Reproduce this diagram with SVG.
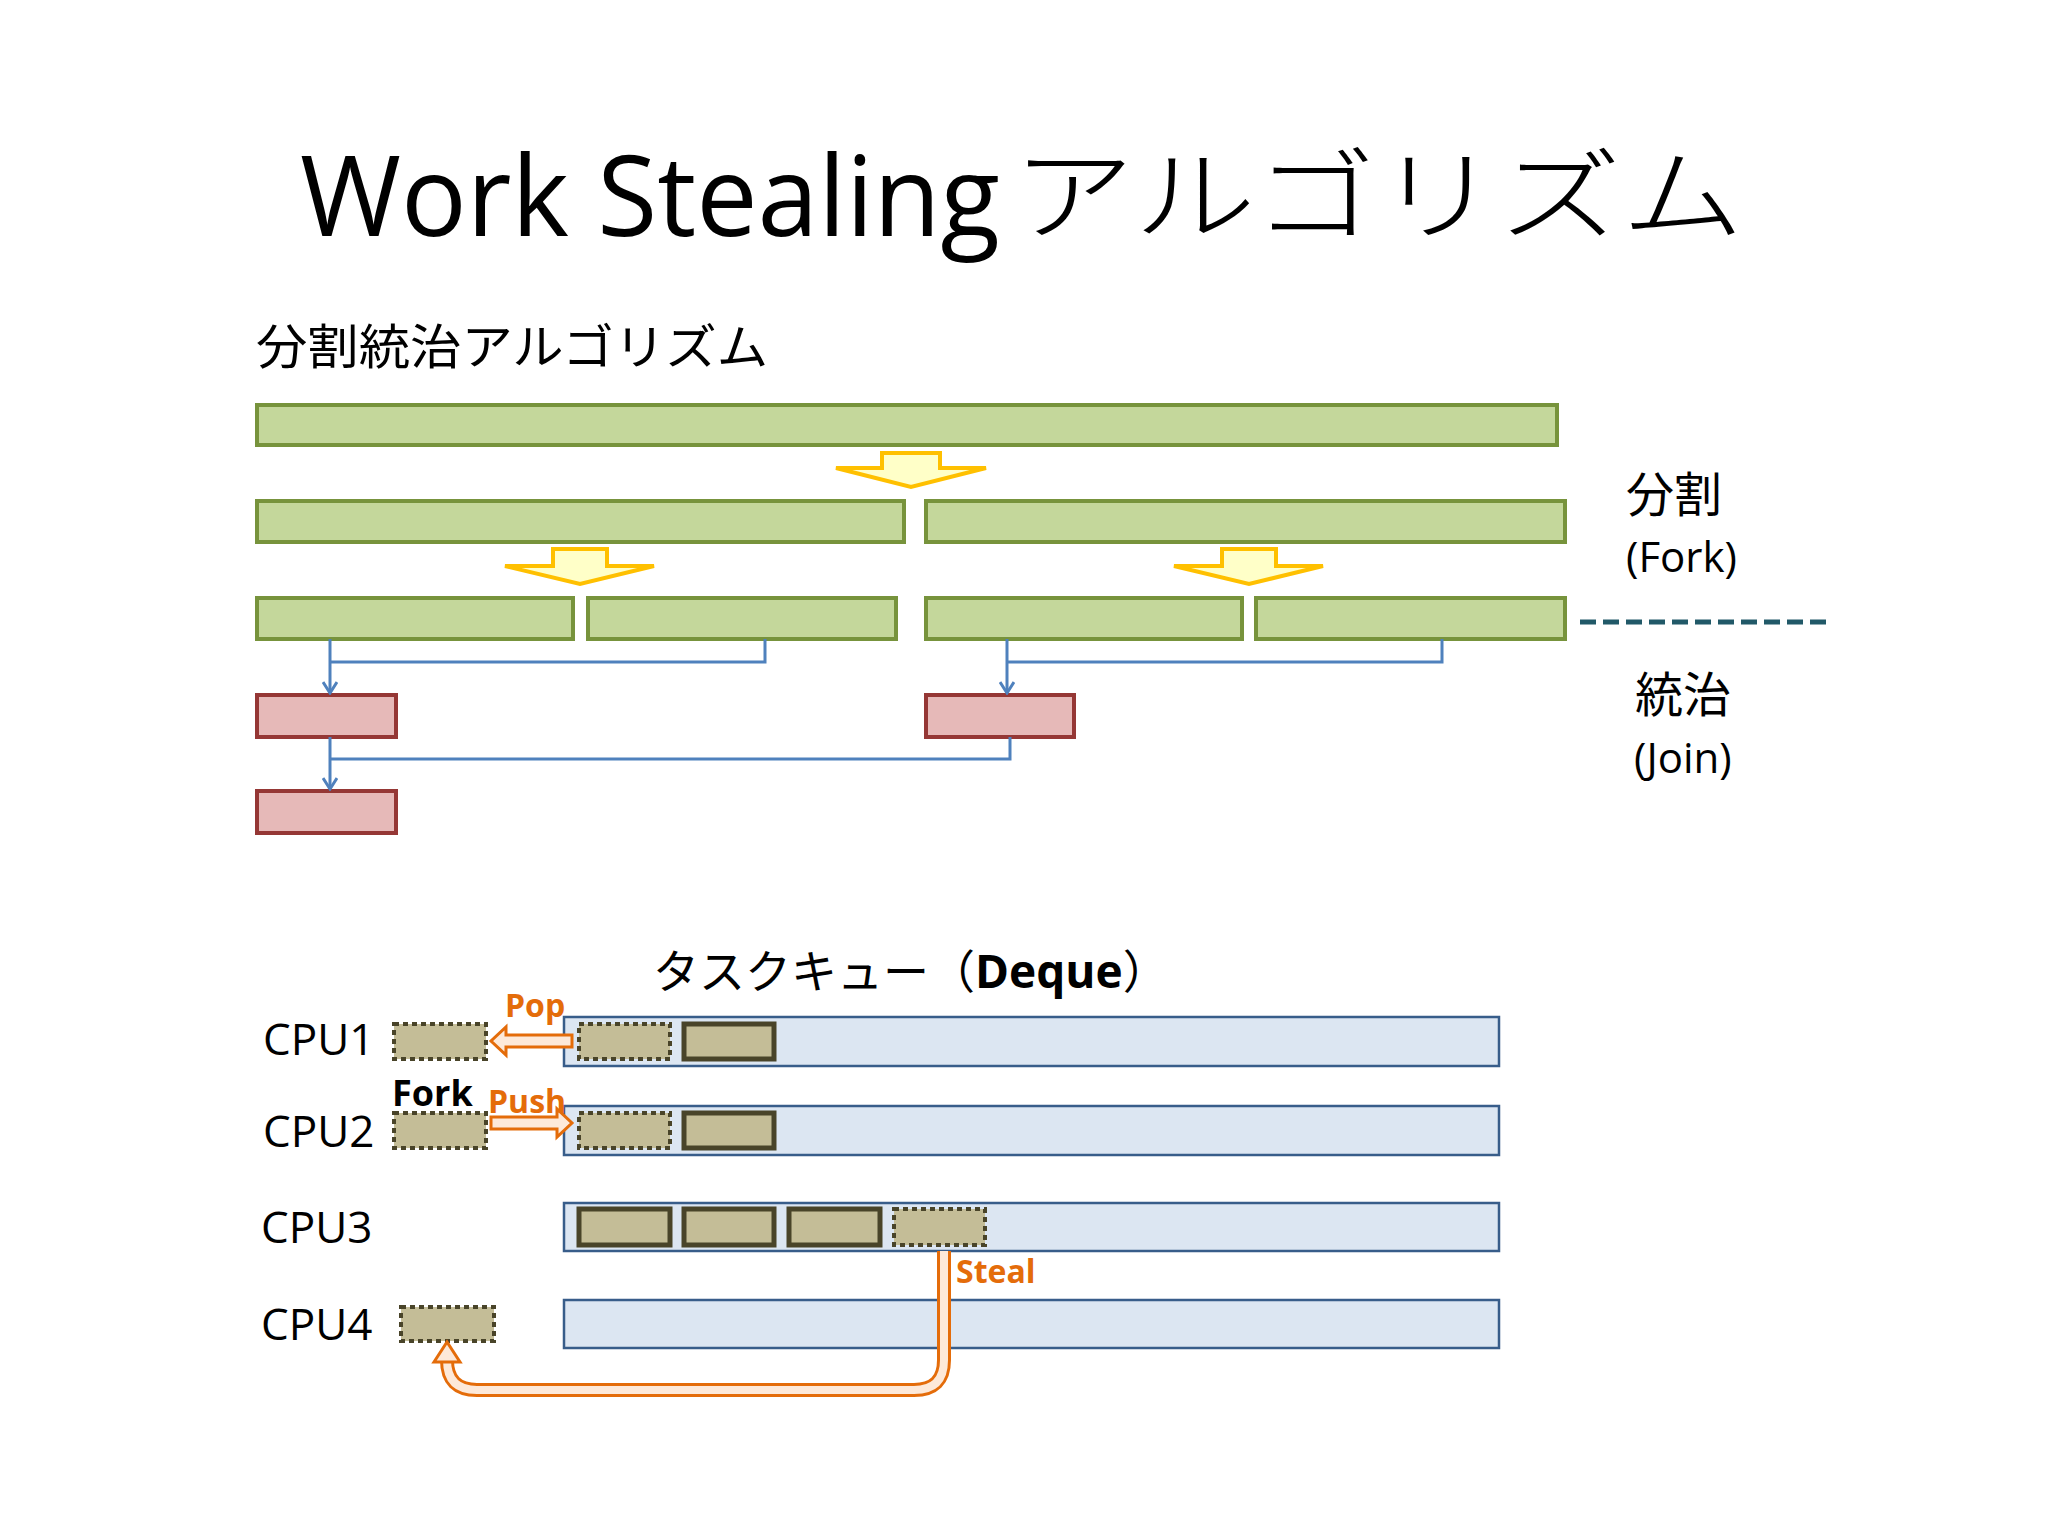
<svg xmlns="http://www.w3.org/2000/svg" width="2048" height="1536" viewBox="0 0 2048 1536">
<style>
.g{fill:#c4d79b;stroke:#77933c;stroke-width:4}
.r{fill:#e6b9b8;stroke:#953735;stroke-width:4}
.q{fill:#dce6f2;stroke:#385d8a;stroke-width:2.5}
.t{fill:#c4bd97;stroke:#494429;stroke-width:5}
.d{fill:#c4bd97;stroke:#494429;stroke-width:4;stroke-dasharray:5 4}
.y{fill:#ffffc8;stroke:#ffc000;stroke-width:4;stroke-linejoin:miter}
.c{fill:none;stroke:#4f81bd;stroke-width:3}
.o{fill:#fde9d9;stroke:#e46c0a;stroke-width:3}
.f{font-family:"Open Sans","Noto Sans CJK JP",sans-serif}
.j{font-family:"Noto Sans CJK JP",sans-serif}
.lb{font-family:"Open Sans",sans-serif;font-weight:bold;fill:#e46c0a;font-size:32px}
</style>
<defs>
<marker id="v" markerWidth="14" markerHeight="16" refX="12" refY="8" orient="auto" markerUnits="userSpaceOnUse" viewBox="0 0 14 16"><path d="M1,1 L12,8 L1,15" fill="none" stroke="#4f81bd" stroke-width="3"/></marker>
</defs>
<rect width="2048" height="1536" fill="#fff"/>
<text class="f" x="300" y="236" font-size="112" textLength="700" lengthAdjust="spacingAndGlyphs">Work Stealing</text>
<text class="j" x="1012" y="232" font-size="100" font-weight="300" textLength="732" lengthAdjust="spacingAndGlyphs">アルゴリズム</text>
<text class="j" x="256" y="364" font-size="48" textLength="512" lengthAdjust="spacingAndGlyphs">分割統治アルゴリズム</text>
<g id="bars">
<rect id="n1" class="g" x="257" y="405" width="1300" height="40"/>
<rect id="n2" class="g" x="257" y="501" width="647" height="41"/>
<rect id="n3" class="g" x="926" y="501" width="639" height="41"/>
<rect id="n4" class="g" x="257" y="598" width="316" height="41"/>
<rect id="n5" class="g" x="588" y="598" width="308" height="41"/>
<rect id="n6" class="g" x="926" y="598" width="316" height="41"/>
<rect id="n7" class="g" x="1256" y="598" width="309" height="41"/>
<rect id="n8" class="r" x="257" y="695" width="139" height="42"/>
<rect id="n9" class="r" x="926" y="695" width="148" height="42"/>
<rect id="n10" class="r" x="257" y="791" width="139" height="42"/>
</g>
<g id="forks">
<path class="y" d="M882,453 H940 V468 H986 L911,487 L836,468 H882 Z"/>
<path class="y" d="M553,549 H607 V566 H654 L580,584 L505,566 H553 Z"/>
<path class="y" d="M1222,549 H1276 V566 H1323 L1249,584 L1174,566 H1222 Z"/>
</g>
<g id="connectors">
<path class="c" d="M330,639 V693" marker-end="url(#v)"/>
<path class="c" d="M765,639 V662 H330"/>
<path class="c" d="M1007,639 V693" marker-end="url(#v)"/>
<path class="c" d="M1442,639 V662 H1007"/>
<path class="c" d="M330,737 V789" marker-end="url(#v)"/>
<path class="c" d="M1010,737 V759 H330"/>
</g>
<line x1="1580" y1="622" x2="1831" y2="622" stroke="#215968" stroke-width="5" stroke-dasharray="16 7"/>
<g class="j" font-size="48" fill="#000">
<text x="1626" y="512">分割</text>
<text x="1635" y="712">統治</text>
</g>
<g class="f" font-size="42" fill="#000">
<text x="1626" y="572">(Fork)</text>
<text x="1634" y="773">(Join)</text>
</g>
<text x="653" y="988" font-size="46"><tspan class="j">タスクキュー（</tspan><tspan class="f" font-weight="bold">Deque</tspan><tspan class="j">）</tspan></text>
<g class="f" font-size="44" fill="#000">
<text x="263" y="1055">CPU1</text>
<text x="263" y="1147">CPU2</text>
<text x="261" y="1243">CPU3</text>
<text x="261" y="1340">CPU4</text>
</g>
<g id="queues">
<rect class="q" x="564" y="1017" width="935" height="49"/>
<rect class="q" x="564" y="1106" width="935" height="49"/>
<rect class="q" x="564" y="1203" width="935" height="48"/>
<rect class="q" x="564" y="1300" width="935" height="48"/>
</g>
<g id="tasks">
<rect class="d" x="579" y="1024" width="91" height="35"/>
<rect class="t" x="684" y="1024" width="90" height="35"/>
<rect class="d" x="579" y="1113" width="91" height="35"/>
<rect class="t" x="684" y="1113" width="90" height="35"/>
<rect class="t" x="579" y="1209" width="91" height="36"/>
<rect class="t" x="684" y="1209" width="90" height="36"/>
<rect class="t" x="789" y="1209" width="91" height="36"/>
<rect class="d" x="894" y="1209" width="91" height="36"/>
<rect class="d" x="394" y="1024" width="92" height="35"/>
<rect class="d" x="394" y="1113" width="92" height="35"/>
<rect class="d" x="401" y="1307" width="93" height="34"/>
</g>
<g id="moves">
<path class="o" d="M572,1035 V1047 H506 V1055 L491,1041 L506,1027 V1035 Z"/>
<path class="o" d="M491,1117 V1129 H557 V1137 L572,1123 L557,1109 V1117 Z"/>
<path d="M944,1251 V1360 Q944,1390 914,1390 H477 Q447,1390 447,1360 V1360" fill="none" stroke="#e46c0a" stroke-width="14"/>
<path d="M944,1251 V1360 Q944,1390 914,1390 H477 Q447,1390 447,1360 V1358" fill="none" stroke="#fde9d9" stroke-width="8"/>
<path class="o" d="M434,1362 L447,1342 L460,1362 Z"/>
</g>
<text class="lb" x="505" y="1017">Pop</text>
<text class="lb" x="488" y="1113">Push</text>
<text class="lb" x="956" y="1283">Steal</text>
<text x="392" y="1106" font-family="Open Sans,sans-serif" font-weight="bold" font-size="36">Fork</text>
</svg>
